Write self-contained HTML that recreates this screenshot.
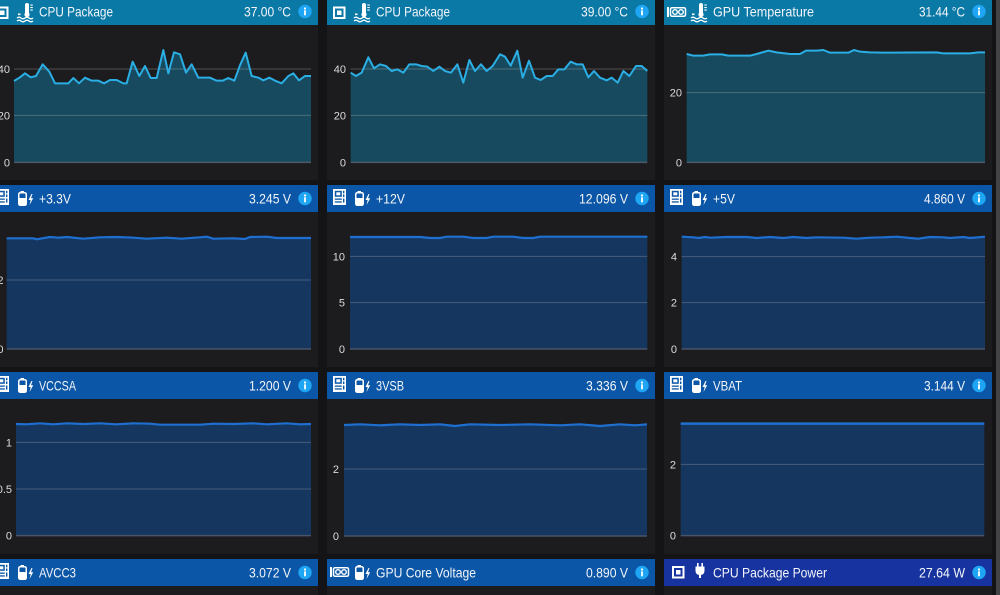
<!DOCTYPE html>
<html><head><meta charset="utf-8"><style>
html,body{margin:0;padding:0;background:#141417;overflow:hidden;width:1000px;height:595px}
svg{display:block}
</style></head><body>
<svg width="1000" height="595" viewBox="0 0 1000 595" xmlns="http://www.w3.org/2000/svg" font-family="'Liberation Sans', sans-serif">
<defs>
<g id="chip"><rect x="1" y="1" width="10.5" height="10.5" fill="none" stroke="#fff" stroke-width="2"/><rect x="4" y="4" width="4.5" height="4.5" fill="#fff"/></g>
<g id="therm" fill="#fff" stroke="none">
<rect x="8" y="0" width="4" height="11" rx="2"/><circle cx="10" cy="11.5" r="2.6"/>
<rect x="13.3" y="1.5" width="2.5" height="1.1"/><rect x="13.3" y="4" width="2.5" height="1.1"/><rect x="13.3" y="6.5" width="2.5" height="1.1"/>
<rect x="1" y="10.5" width="2.5" height="1.6"/>
<path d="M0 15 q2 -1.6 4 0 t4 0 t4 0 t4 0" fill="none" stroke="#fff" stroke-width="1.3"/>
<path d="M0 18 q2 -1.6 4 0 t4 0 t4 0 t4 0" fill="none" stroke="#fff" stroke-width="1.3"/>
</g>
<g id="gpu">
<rect x="0" y="0" width="2" height="10" fill="#fff"/>
<rect x="3.5" y="0.75" width="15" height="8.5" rx="1.5" fill="none" stroke="#fff" stroke-width="1.5"/>
<circle cx="8" cy="5" r="2.3" fill="none" stroke="#fff" stroke-width="1.4"/>
<circle cx="14" cy="5" r="2.3" fill="none" stroke="#fff" stroke-width="1.4"/>
</g>
<g id="mb">
<rect width="13" height="16" fill="#fff"/>
<rect x="1.8" y="1.8" width="7" height="6" fill="#0b56a6"/>
<rect x="3.3" y="3.3" width="4" height="3" fill="#fff"/>
<rect x="10" y="1.8" width="1.4" height="2.5" fill="#0b56a6"/>
<rect x="10" y="5.5" width="1.4" height="2.5" fill="#0b56a6"/>
<rect x="1.8" y="9.5" width="7" height="1.3" fill="#0b56a6"/>
<rect x="1.8" y="12.3" width="7" height="1.3" fill="#0b56a6"/>
<rect x="10" y="9.5" width="1.4" height="4.1" fill="#0b56a6"/>
</g>
<g id="batt">
<rect x="2.5" y="0" width="3.5" height="2" fill="#fff"/>
<rect x="0.75" y="1.75" width="7.5" height="12.5" rx="1.5" fill="none" stroke="#fff" stroke-width="1.5"/>
<rect x="0.75" y="7" width="7.5" height="7.25" rx="1" fill="#fff"/>
<polygon points="13.5,3 10.5,9 12.7,9 11.5,14 15.2,7.3 13,7.3 14.5,3" fill="#fff"/>
</g>
<g id="plug" fill="#fff">
<rect x="2" y="0" width="1.6" height="4"/><rect x="6.4" y="0" width="1.6" height="4"/>
<path d="M0.5 3.5 h9 v4 q0 4 -3.5 4.5 v3 h-2 v-3 q-3.5 -0.5 -3.5 -4.5 z"/>
</g>
<g id="info"><circle r="6.7" fill="#1ea6f5"/><circle cx="0" cy="-3" r="1.1" fill="#fff"/><rect x="-0.9" y="-1.2" width="1.8" height="5" fill="#fff"/></g>
</defs>

<!-- panel bodies -->
<g fill="#1c1b1e">
<rect x="-10" y="-2" width="328" height="182"/><rect x="327" y="-2" width="328" height="182"/><rect x="664" y="-2" width="328" height="182"/>
<rect x="-10" y="185" width="328" height="182"/><rect x="327" y="185" width="328" height="182"/><rect x="664" y="185" width="328" height="182"/>
<rect x="-10" y="372" width="328" height="182"/><rect x="327" y="372" width="328" height="182"/><rect x="664" y="372" width="328" height="182"/>
<rect x="-10" y="559" width="328" height="60"/><rect x="327" y="559" width="328" height="60"/><rect x="664" y="559" width="328" height="60"/>
</g>
<!-- scrollbar -->
<rect x="996" y="0" width="4" height="595" fill="#434346"/>

<!-- headers -->
<g>
<rect x="-10" y="-2" width="328" height="27" fill="#0b79a6"/>
<rect x="327" y="-2" width="328" height="27" fill="#0b79a6"/>
<rect x="664" y="-2" width="328" height="27" fill="#0b79a6"/>
<rect x="-10" y="185" width="328" height="27" fill="#0b56a6"/>
<rect x="327" y="185" width="328" height="27" fill="#0b56a6"/>
<rect x="664" y="185" width="328" height="27" fill="#0b56a6"/>
<rect x="-10" y="372" width="328" height="27" fill="#0b56a6"/>
<rect x="327" y="372" width="328" height="27" fill="#0b56a6"/>
<rect x="664" y="372" width="328" height="27" fill="#0b56a6"/>
<rect x="-10" y="559" width="328" height="27" fill="#0b56a6"/>
<rect x="327" y="559" width="328" height="27" fill="#0b56a6"/>
<rect x="664" y="559" width="328" height="27" fill="#1733a0"/>
</g>

<!-- header icons -->
<use href="#chip" x="-4" y="6.5"/><use href="#therm" x="17" y="3"/>
<use href="#chip" x="333" y="6.5"/><use href="#therm" x="354" y="3"/>
<use href="#gpu" x="667" y="7"/><use href="#therm" x="691" y="3"/>

<use href="#mb" x="-4" y="189"/><use href="#batt" x="18" y="191"/>
<use href="#mb" x="333" y="189"/><use href="#batt" x="355" y="191"/>
<use href="#mb" x="670" y="189"/><use href="#batt" x="692" y="191"/>

<use href="#mb" x="-4" y="376"/><use href="#batt" x="18" y="378"/>
<use href="#mb" x="333" y="376"/><use href="#batt" x="355" y="378"/>
<use href="#mb" x="670" y="376"/><use href="#batt" x="692" y="378"/>

<use href="#mb" x="-4" y="563"/><use href="#batt" x="18" y="565"/>
<use href="#gpu" x="330" y="567"/><use href="#batt" x="355" y="565"/>
<use href="#chip" x="672" y="566"/><use href="#plug" x="695" y="563"/>

<!-- header text -->
<g fill="#f3f5f9" font-size="14">
<text x="39" y="16.7" textLength="74" lengthAdjust="spacingAndGlyphs">CPU Package</text>
<text x="291" y="16.7" text-anchor="end" textLength="47" lengthAdjust="spacingAndGlyphs">37.00 °C</text>
<text x="376" y="16.7" textLength="74" lengthAdjust="spacingAndGlyphs">CPU Package</text>
<text x="628" y="16.7" text-anchor="end" textLength="47" lengthAdjust="spacingAndGlyphs">39.00 °C</text>
<text x="713" y="16.7" textLength="101" lengthAdjust="spacingAndGlyphs">GPU Temperature</text>
<text x="965" y="16.7" text-anchor="end" textLength="46" lengthAdjust="spacingAndGlyphs">31.44 °C</text>

<text x="39" y="203.5" textLength="32" lengthAdjust="spacingAndGlyphs">+3.3V</text>
<text x="291" y="203.5" text-anchor="end" textLength="42" lengthAdjust="spacingAndGlyphs">3.245 V</text>
<text x="376" y="203.5" textLength="29" lengthAdjust="spacingAndGlyphs">+12V</text>
<text x="628" y="203.5" text-anchor="end" textLength="49" lengthAdjust="spacingAndGlyphs">12.096 V</text>
<text x="713" y="203.5" textLength="22" lengthAdjust="spacingAndGlyphs">+5V</text>
<text x="965" y="203.5" text-anchor="end" textLength="41" lengthAdjust="spacingAndGlyphs">4.860 V</text>

<text x="39" y="390.5" textLength="37" lengthAdjust="spacingAndGlyphs">VCCSA</text>
<text x="291" y="390.5" text-anchor="end" textLength="42" lengthAdjust="spacingAndGlyphs">1.200 V</text>
<text x="376" y="390.5" textLength="28" lengthAdjust="spacingAndGlyphs">3VSB</text>
<text x="628" y="390.5" text-anchor="end" textLength="42" lengthAdjust="spacingAndGlyphs">3.336 V</text>
<text x="713" y="390.5" textLength="29" lengthAdjust="spacingAndGlyphs">VBAT</text>
<text x="965" y="390.5" text-anchor="end" textLength="41" lengthAdjust="spacingAndGlyphs">3.144 V</text>

<text x="39" y="577.5" textLength="37" lengthAdjust="spacingAndGlyphs">AVCC3</text>
<text x="291" y="577.5" text-anchor="end" textLength="42" lengthAdjust="spacingAndGlyphs">3.072 V</text>
<text x="376" y="577.5" textLength="100" lengthAdjust="spacingAndGlyphs">GPU Core Voltage</text>
<text x="628" y="577.5" text-anchor="end" textLength="42" lengthAdjust="spacingAndGlyphs">0.890 V</text>
<text x="713" y="577.5" textLength="114" lengthAdjust="spacingAndGlyphs">CPU Package Power</text>
<text x="965" y="577.5" text-anchor="end" textLength="46" lengthAdjust="spacingAndGlyphs">27.64 W</text>
</g>

<!-- info icons -->
<use href="#info" x="305" y="11.5"/><use href="#info" x="642" y="11.5"/><use href="#info" x="979" y="11.5"/>
<use href="#info" x="305" y="198.5"/><use href="#info" x="642" y="198.5"/><use href="#info" x="979" y="198.5"/>
<use href="#info" x="305" y="385.5"/><use href="#info" x="642" y="385.5"/><use href="#info" x="979" y="385.5"/>
<use href="#info" x="305" y="572.5"/><use href="#info" x="642" y="572.5"/><use href="#info" x="979" y="572.5"/>

<!-- ROW 1 charts (teal) -->
<g transform="translate(0,0) scale(0.333333)">
<polygon fill="#174a5e" points="42,243 60,232 75,220 92,232 108,228 128,193 148,215 165,250 185,250 205,250 220,234 237,250 255,233 275,242 295,242 312,250 330,240 350,240 370,250 380,250 398,185 418,228 435,198 452,234 470,234 490,150 505,220 522,157 540,163 558,218 575,193 595,233 612,233 630,233 650,242 668,242 685,234 703,242 720,196 737,158 755,228 775,233 790,241 808,233 825,242 845,250 865,228 880,220 897,241 915,228 933,228 933,487 42,487"/>
<g stroke="rgba(200,190,185,0.32)" vector-effect="non-scaling-stroke"><line x1="42" x2="933" y1="207" y2="207" vector-effect="non-scaling-stroke" stroke-width="1"/><line x1="42" x2="933" y1="346" y2="346" vector-effect="non-scaling-stroke" stroke-width="1"/></g>
<line x1="42" x2="933" y1="487" y2="487" stroke="#4a5a66" stroke-width="1.5" vector-effect="non-scaling-stroke"/>
<polyline fill="none" stroke="#2aaee4" stroke-width="2" stroke-linejoin="round" vector-effect="non-scaling-stroke" points="42,243 60,232 75,220 92,232 108,228 128,193 148,215 165,250 185,250 205,250 220,234 237,250 255,233 275,242 295,242 312,250 330,240 350,240 370,250 380,250 398,185 418,228 435,198 452,234 470,234 490,150 505,220 522,157 540,163 558,218 575,193 595,233 612,233 630,233 650,242 668,242 685,234 703,242 720,196 737,158 755,228 775,233 790,241 808,233 825,242 845,250 865,228 880,220 897,241 915,228 933,228"/>
</g>
<g transform="translate(320,0) scale(0.333333)">
<polygon fill="#174a5e" points="92,218 108,228 125,218 145,172 162,205 180,193 198,198 215,213 232,208 250,218 268,193 288,193 305,198 322,200 340,213 358,200 375,213 393,218 412,193 430,248 448,180 465,213 483,193 500,213 518,198 540,163 555,170 572,197 592,152 608,233 627,182 645,233 662,240 680,228 698,228 715,208 733,208 752,185 770,193 788,193 805,232 822,213 840,233 860,241 875,233 893,248 910,213 928,228 948,198 965,198 982,213 982,487 92,487"/>
<line x1="92" x2="982" y1="207" y2="207" stroke="rgba(200,190,185,0.32)" stroke-width="1" vector-effect="non-scaling-stroke"/>
<line x1="92" x2="982" y1="346" y2="346" stroke="rgba(200,190,185,0.32)" stroke-width="1" vector-effect="non-scaling-stroke"/>
<line x1="92" x2="982" y1="487" y2="487" stroke="#4a5a66" stroke-width="1.5" vector-effect="non-scaling-stroke"/>
<polyline fill="none" stroke="#2aaee4" stroke-width="2" stroke-linejoin="round" vector-effect="non-scaling-stroke" points="92,218 108,228 125,218 145,172 162,205 180,193 198,198 215,213 232,208 250,218 268,193 288,193 305,198 322,200 340,213 358,200 375,213 393,218 412,193 430,248 448,180 465,213 483,193 500,213 518,198 540,163 555,170 572,197 592,152 608,233 627,182 645,233 662,240 680,228 698,228 715,208 733,208 752,185 770,193 788,193 805,232 822,213 840,233 860,241 875,233 893,248 910,213 928,228 948,198 965,198 982,213"/>
</g>
<g transform="translate(650,0) scale(0.333333)">
<polygon fill="#174a5e" points="110,162 130,167 160,167 180,163 215,163 235,167 300,167 320,162 355,152 380,157 420,162 450,162 468,152 500,152 520,150 540,158 595,158 612,150 630,155 660,157 700,158 860,157 880,160 960,160 985,157 1005,157 1005,487 110,487"/>
<line x1="110" x2="1005" y1="278" y2="278" stroke="rgba(200,190,185,0.32)" stroke-width="1" vector-effect="non-scaling-stroke"/>
<line x1="110" x2="1005" y1="487" y2="487" stroke="#4a5a66" stroke-width="1.5" vector-effect="non-scaling-stroke"/>
<polyline fill="none" stroke="#2aaee4" stroke-width="2" stroke-linejoin="round" vector-effect="non-scaling-stroke" points="110,162 130,167 160,167 180,163 215,163 235,167 300,167 320,162 355,152 380,157 420,162 450,162 468,152 500,152 520,150 540,158 595,158 612,150 630,155 660,157 700,158 860,157 880,160 960,160 985,157 1005,157"/>
</g>

<!-- ROW 2 charts (blue) -->
<g transform="translate(0,180) scale(0.333333)">
<polygon fill="#14365f" points="20,175 100,175 110,178 150,171 175,173 200,171 250,176 300,172 350,171 400,173 440,176 500,173 545,176 600,172 620,170 640,176 700,175 735,177 750,171 800,170 830,174 933,174 933,507 20,507"/>
<line x1="20" x2="933" y1="300" y2="300" stroke="rgba(190,190,200,0.3)" stroke-width="1" vector-effect="non-scaling-stroke"/>
<line x1="20" x2="933" y1="507" y2="507" stroke="#4a5468" stroke-width="1.5" vector-effect="non-scaling-stroke"/>
<polyline fill="none" stroke="#1f6fd0" stroke-width="2.2" stroke-linejoin="round" vector-effect="non-scaling-stroke" points="20,175 100,175 110,178 150,171 175,173 200,171 250,176 300,172 350,171 400,173 440,176 500,173 545,176 600,172 620,170 640,176 700,175 735,177 750,171 800,170 830,174 933,174"/>
</g>
<g transform="translate(320,180) scale(0.333333)">
<polygon fill="#14365f" points="90,171 300,171 330,174 360,174 380,170 430,170 460,174 500,174 520,170 580,170 610,174 640,174 660,170 982,170 982,507 90,507"/>
<line x1="90" x2="982" y1="229" y2="229" stroke="rgba(190,190,200,0.3)" stroke-width="1" vector-effect="non-scaling-stroke"/>
<line x1="90" x2="982" y1="368" y2="368" stroke="rgba(190,190,200,0.3)" stroke-width="1" vector-effect="non-scaling-stroke"/>
<line x1="90" x2="982" y1="507" y2="507" stroke="#4a5468" stroke-width="1.5" vector-effect="non-scaling-stroke"/>
<polyline fill="none" stroke="#1f6fd0" stroke-width="2.2" stroke-linejoin="round" vector-effect="non-scaling-stroke" points="90,171 300,171 330,174 360,174 380,170 430,170 460,174 500,174 520,170 580,170 610,174 640,174 660,170 982,170"/>
</g>
<g transform="translate(650,180) scale(0.333333)">
<polygon fill="#14365f" points="95,170 130,172 145,174 165,171 180,173 230,171 290,171 320,174 360,171 400,174 430,171 470,174 500,172 580,173 620,176 660,173 700,172 740,170 780,174 805,176 840,171 880,172 900,174 940,171 960,174 1005,170 1005,507 95,507"/>
<line x1="95" x2="1005" y1="230" y2="230" stroke="rgba(190,190,200,0.3)" stroke-width="1" vector-effect="non-scaling-stroke"/>
<line x1="95" x2="1005" y1="368" y2="368" stroke="rgba(190,190,200,0.3)" stroke-width="1" vector-effect="non-scaling-stroke"/>
<line x1="95" x2="1005" y1="507" y2="507" stroke="#4a5468" stroke-width="1.5" vector-effect="non-scaling-stroke"/>
<polyline fill="none" stroke="#1f6fd0" stroke-width="2.2" stroke-linejoin="round" vector-effect="non-scaling-stroke" points="95,170 130,172 145,174 165,171 180,173 230,171 290,171 320,174 360,171 400,174 430,171 470,174 500,172 580,173 620,176 660,173 700,172 740,170 780,174 805,176 840,171 880,172 900,174 940,171 960,174 1005,170"/>
</g>

<!-- ROW 3 charts (blue) -->
<g transform="translate(0,365) scale(0.333333)">
<polygon fill="#14365f" points="48,177 80,178 120,175 160,178 200,175 250,177 300,175 350,178 400,175 450,176 480,179 600,179 640,176 700,177 760,175 800,178 860,175 900,178 933,177 933,512 48,512"/>
<line x1="48" x2="933" y1="232" y2="232" stroke="rgba(190,190,200,0.3)" stroke-width="1" vector-effect="non-scaling-stroke"/>
<line x1="48" x2="933" y1="372" y2="372" stroke="rgba(190,190,200,0.3)" stroke-width="1" vector-effect="non-scaling-stroke"/>
<line x1="48" x2="933" y1="512" y2="512" stroke="#4a5468" stroke-width="1.5" vector-effect="non-scaling-stroke"/>
<polyline fill="none" stroke="#1f6fd0" stroke-width="2.2" stroke-linejoin="round" vector-effect="non-scaling-stroke" points="48,177 80,178 120,175 160,178 200,175 250,177 300,175 350,178 400,175 450,176 480,179 600,179 640,176 700,177 760,175 800,178 860,175 900,178 933,177"/>
</g>
<g transform="translate(320,365) scale(0.333333)">
<polygon fill="#14365f" points="72,180 120,178 180,181 240,178 300,180 360,178 405,183 450,178 540,180 630,178 720,181 780,178 840,183 900,178 945,181 981,178 981,513 72,513"/>
<line x1="72" x2="981" y1="312" y2="312" stroke="rgba(190,190,200,0.3)" stroke-width="1" vector-effect="non-scaling-stroke"/>
<line x1="72" x2="981" y1="513" y2="513" stroke="#4a5468" stroke-width="1.5" vector-effect="non-scaling-stroke"/>
<polyline fill="none" stroke="#1f6fd0" stroke-width="2.2" stroke-linejoin="round" vector-effect="non-scaling-stroke" points="72,180 120,178 180,181 240,178 300,180 360,178 405,183 450,178 540,180 630,178 720,181 780,178 840,183 900,178 945,181 981,178"/>
</g>
<g transform="translate(650,365) scale(0.333333)">
<polygon fill="#14365f" points="92,176 1003,176 1003,512 92,512"/>
<line x1="92" x2="1003" y1="298" y2="298" stroke="rgba(190,190,200,0.3)" stroke-width="1" vector-effect="non-scaling-stroke"/>
<line x1="92" x2="1003" y1="512" y2="512" stroke="#4a5468" stroke-width="1.5" vector-effect="non-scaling-stroke"/>
<polyline fill="none" stroke="#1f6fd0" stroke-width="2.5" vector-effect="non-scaling-stroke" points="92,176 1003,176"/>
</g>

<!-- tick labels -->
<g fill="#dcdcdc" font-size="11" text-anchor="end">
<text x="10" y="73">40</text><text x="10" y="119.3">20</text><text x="10" y="166.3">0</text>
<text x="346" y="73">40</text><text x="346" y="119.3">20</text><text x="346" y="166.3">0</text>
<text x="682" y="96.7">20</text><text x="682" y="166.3">0</text>

<text x="3.5" y="284">2</text><text x="3.5" y="353">0</text>
<text x="345" y="260.3">10</text><text x="345" y="306.7">5</text><text x="345" y="353">0</text>
<text x="677" y="260.7">4</text><text x="677" y="306.7">2</text><text x="677" y="353">0</text>

<text x="12" y="446.3">1</text><text x="12" y="493">0.5</text><text x="12" y="539.7">0</text>
<text x="339" y="473">2</text><text x="339" y="540">0</text>
<text x="676" y="468.3">2</text><text x="676" y="539.7">0</text>
</g>
</svg>
</body></html>
